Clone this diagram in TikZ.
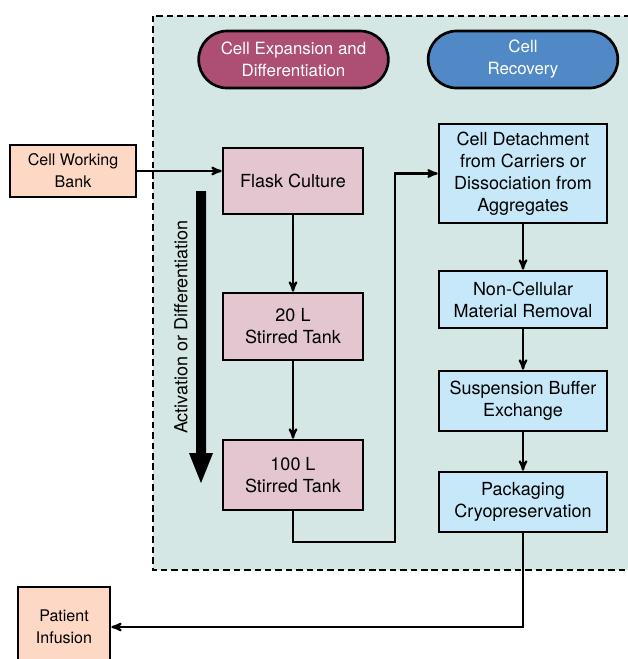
\documentclass[tikz,border=0pt]{standalone}
\usepackage{fontspec}
\setmainfont{TeX Gyre Heros}
\usetikzlibrary{arrows}
\definecolor{framefill}{HTML}{D4E7E4}
\definecolor{stagefill}{HTML}{E3C6CF}
\definecolor{recfill}{HTML}{C6E8F9}
\definecolor{endfill}{HTML}{FDD9C5}
\definecolor{pillred}{HTML}{AD4F74}
\definecolor{pillblue}{HTML}{5189C6}

\begin{document}
\begin{tikzpicture}[x=0.025cm,y=-0.025cm,>=stealth',line width=1.5pt,
            main node/.style={rectangle,draw,line width=1.9pt,align=center,inner sep=2pt,
              font=\fontsize{12.8}{15.6}\selectfont},
            stage node/.style={main node,fill=stagefill,minimum width=3.5cm},
            rec node/.style={main node,fill=recfill,minimum width=4.2cm},
            end node/.style={main node,fill=endfill,font=\fontsize{11.4}{15.6}\selectfont},
            pill node/.style={rectangle,rounded corners=0.71cm,draw,line width=1.9pt,align=center,
              text=white,minimum width=4.74cm,minimum height=1.425cm,
              font=\fontsize{12}{15.6}\selectfont}]
            \useasboundingbox (0,0) rectangle (628,659);
            \clip (0,0) rectangle (628,659);
            % dashed process frame
            \draw[fill=framefill,line width=1.7pt,dash pattern=on 4.6pt off 2.8pt] (153,16) rectangle (660,570);
            \node[pill node, fill=pillred] (a) at (293.5,59.5) {Cell Expansion and\\Differentiation};
            \node[pill node, fill=pillblue] (b) at (523,59.5) {Cell\\Recovery};
            \node[end node, minimum width=3.15cm, minimum height=1.3cm] (0) at (73,171) {Cell Working\\Bank};
            \node[stage node, minimum height=1.65cm] (1) at (293,181) {Flask Culture};
            \node[stage node, minimum height=1.675cm] (2) at (293,326.5) {20 L\\Stirred Tank};
            \node[stage node, minimum height=1.75cm] (3) at (293,475) {100 L\\Stirred Tank};
            \node[rec node, minimum height=2.475cm] (4) at (523,173.5) {Cell Detachment\\from Carriers or\\Dissociation from\\Aggregates};
            \node[rec node, minimum height=1.425cm] (5) at (523,299.5) {Non-Cellular\\Material Removal};
            \node[rec node, minimum height=1.5cm] (6) at (523,401) {Suspension Buffer\\Exchange};
            \node[rec node, minimum height=1.5cm] (7) at (523,502) {Packaging\\Cryopreservation};
            \node[end node, minimum width=2.3cm, minimum height=2cm] (8) at (64,627) {Patient\\Infusion};
            % big progress arrow
            \fill (196,191) -- (206,191) -- (206,453) -- (213,453) -- (201,483) -- (189,453) -- (196,453) -- cycle;
            \node[rotate=90,font=\fontsize{12.8}{15.6}\selectfont] (act) at (181,327) {Activation or Differentiation};
            \coordinate (turn) at (395,542);
            \draw[->] (0.east) -- (0.east -| 1.west);
            \path[->]
            (1) edge (2)
            (2) edge (3)
            (4) edge (5)
            (5) edge (6)
            (6) edge (7)
            ;
            \draw[->] (3.south) |- (turn) |- (4.west);
            \draw[->] (7.south) |- (8.east);
        \end{tikzpicture}
\end{document}
